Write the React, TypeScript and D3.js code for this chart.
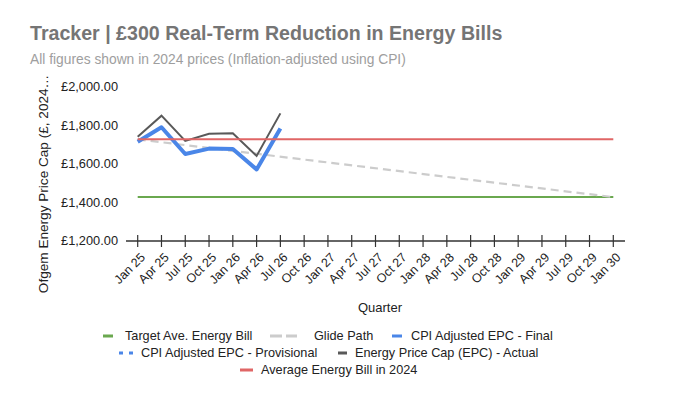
import React from 'react'
import * as d3 from 'd3'

const quarters = [
  'Jan 25', 'Apr 25', 'Jul 25', 'Oct 25',
  'Jan 26', 'Apr 26', 'Jul 26', 'Oct 26',
  'Jan 27', 'Apr 27', 'Jul 27', 'Oct 27',
  'Jan 28', 'Apr 28', 'Jul 28', 'Oct 28',
  'Jan 29', 'Apr 29', 'Jul 29', 'Oct 29',
  'Jan 30',
]

// reported quarters so far
const reportedQuarters = ['Jan 25', 'Apr 25', 'Jul 25', 'Oct 25', 'Jan 26', 'Apr 26', 'Jul 26']
const epcActual = [1742, 1851, 1720, 1757, 1760, 1642, 1863]
const cpiAdjustedFinal = [1716, 1791, 1652, 1680, 1678, 1572, 1785]

const avgBill2024 = 1728
const targetBill = 1428

const glideQuarters = ['Jan 25', 'Jan 30']
const glideValues = [1728, 1428]

const yTicks = [1200, 1400, 1600, 1800, 2000]

const FONT = '"Liberation Sans", Arial, sans-serif'

const x = d3.scalePoint<string>().domain(quarters).range([137.7, 613.3])
const y = d3.scaleLinear().domain([1200, 2000]).range([241, 87])

const fmt = (v: number) => '£' + d3.format(',.2f')(v)

const line = d3.line<[string, number]>()
  .x(d => x(d[0]) as number)
  .y(d => y(d[1]))

const zip = (qs: string[], vs: number[]) => qs.map((q, i) => [q, vs[i]] as [string, number])

export default function App() {
  const first = quarters[0]
  const last = quarters[quarters.length - 1]

  return (
    <svg width={680} height={403} style={{ position: 'absolute', left: 0, top: 0, background: '#fff' }} fontFamily={FONT}>
      <text x={30} y={40} fontSize={19.6} fontWeight="bold" fill="#757575">
        Tracker | £300 Real-Term Reduction in Energy Bills
      </text>
      <text x={30} y={64} fontSize={13.8} fill="#9e9e9e">
        All figures shown in 2024 prices (Inflation-adjusted using CPI)
      </text>

      {/* y axis labels */}
      {yTicks.map(t => (
        <text key={t} x={118} y={y(t)} dy="0.35em" textAnchor="end" fontSize={12.8} fill="#222">
          {fmt(t)}
        </text>
      ))}
      <text transform="translate(43,184) rotate(-90)" textAnchor="middle" dy="0.35em" fontSize={13.6} fill="#222">
        Ofgem Energy Price Cap (£, 2024…
      </text>

      {/* series */}
      <path d={line(zip([first, last], [targetBill, targetBill])) || ''} fill="none" stroke="#6aa84f" strokeWidth={2} />
      <path d={line(zip(glideQuarters, glideValues)) || ''} fill="none" stroke="#cccccc" strokeWidth={2.2} strokeDasharray="8,5" />
      <path d={line(zip(reportedQuarters, cpiAdjustedFinal)) || ''} fill="none" stroke="#4a86e8" strokeWidth={4} strokeLinejoin="round" />
      <path d={line(zip(reportedQuarters, epcActual)) || ''} fill="none" stroke="#595959" strokeWidth={2} />
      <path d={line(zip([first, last], [avgBill2024, avgBill2024])) || ''} fill="none" stroke="#e06666" strokeWidth={2} />

      {/* x axis */}
      <line x1={126} x2={625} y1={y(1200)} y2={y(1200)} stroke="#333" strokeWidth={1.5} />
      {quarters.map(q => (
        <g key={q}>
          <line x1={x(q)} x2={x(q)} y1={y(1200) - 6} y2={y(1200) + 6} stroke="#333" strokeWidth={1.2} />
          <text
            transform={`translate(${(x(q) as number) + 5},${y(1200) + 14}) rotate(-45)`}
            textAnchor="end"
            dy="0.35em"
            fontSize={12.5}
            fill="#222"
          >
            {q}
          </text>
        </g>
      ))}
      <text x={380} y={307} dy="0.35em" textAnchor="middle" fontSize={13} fill="#222">Quarter</text>

      {/* legend */}
      <g fontSize={12.7} fill="#222">
        <rect x={103} y={334.5} width={10} height={3} fill="#6aa84f" />
        <text x={125} y={336} dy="0.35em">Target Ave. Energy Bill</text>
        <rect x={270} y={334.5} width={12} height={3} fill="#cccccc" />
        <rect x={286} y={334.5} width={11} height={3} fill="#cccccc" />
        <text x={314} y={336} dy="0.35em">Glide Path</text>
        <rect x={392} y={334.5} width={10} height={3} fill="#4a86e8" />
        <text x={411} y={336} dy="0.35em">CPI Adjusted EPC - Final</text>

        <rect x={119} y={351.5} width={4} height={3} fill="#4a86e8" />
        <rect x={129} y={351.5} width={4} height={3} fill="#4a86e8" />
        <text x={141} y={353} dy="0.35em">CPI Adjusted EPC - Provisional</text>
        <rect x={338} y={351.5} width={9} height={3} fill="#595959" />
        <text x={355} y={353} dy="0.35em">Energy Price Cap (EPC) - Actual</text>

        <rect x={240} y={368.5} width={13} height={3} fill="#e06666" />
        <text x={261} y={370} dy="0.35em">Average Energy Bill in 2024</text>
      </g>
    </svg>
  )
}
